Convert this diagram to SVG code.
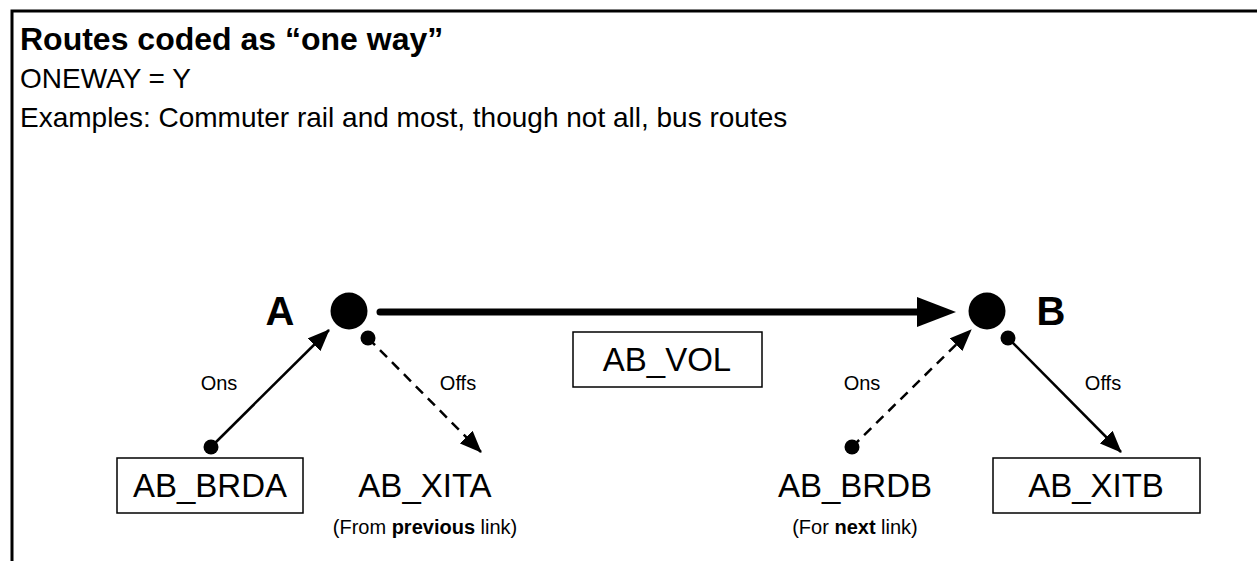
<svg xmlns="http://www.w3.org/2000/svg" width="1257" height="561" viewBox="0 0 1257 561">
<style>
text{font-family:"Liberation Sans",Arial,sans-serif;fill:#000}
.t{font-size:32px;font-weight:bold}
.h{font-size:28px}
.n{font-size:40px;font-weight:bold;text-anchor:middle}
.b{font-size:33px;text-anchor:middle}
.s{font-size:20px;text-anchor:middle}
.box{fill:#fff;stroke:#000;stroke-width:1.5}
.ln{stroke:#000;stroke-width:2.5;fill:none}
.dash{stroke-dasharray:10 7}
</style>
<defs>
<marker id="ah" viewBox="0 0 22 18" refX="21" refY="9" markerWidth="22" markerHeight="18" markerUnits="userSpaceOnUse" orient="auto"><path d="M0,0L22,9L0,18z" fill="#000"/></marker>
</defs>
<path d="M12,561V11H1257" fill="none" stroke="#000" stroke-width="3"/>
<g id="header">
<text class="t" x="20" y="50">Routes coded as “one way”</text>
<text class="h" x="20" y="88">ONEWAY = Y</text>
<text class="h" x="20" y="127">Examples: Commuter rail and most, though not all, bus routes</text>
</g>
<g id="connectors">
<line x1="380" y1="312" x2="922" y2="312" stroke="#000" stroke-width="7" stroke-linecap="round"/>
<path d="M917,297L956,312L917,327z" fill="#000"/>
<line class="ln" x1="211" y1="447" x2="329" y2="330" marker-end="url(#ah)"/>
<line class="ln dash" x1="368" y1="338" x2="481" y2="452" marker-end="url(#ah)"/>
<line class="ln dash" x1="852" y1="447" x2="971" y2="330" marker-end="url(#ah)"/>
<line class="ln" x1="1008" y1="338" x2="1121" y2="452" marker-end="url(#ah)"/>
<circle cx="211" cy="447" r="7.5"/>
<circle cx="368" cy="338" r="7.5"/>
<circle cx="852" cy="447" r="7.5"/>
<circle cx="1008" cy="338" r="7.5"/>
<text class="s" x="219" y="390">Ons</text>
<text class="s" x="458" y="390">Offs</text>
<text class="s" x="862" y="390">Ons</text>
<text class="s" x="1103" y="390">Offs</text>
</g>
<g id="nodeA">
<circle cx="349" cy="311" r="18.5"/>
<text class="n" x="280" y="325">A</text>
</g>
<g id="nodeB">
<circle cx="987" cy="311" r="18.5"/>
<text class="n" x="1051" y="325">B</text>
</g>
<g id="abvol">
<rect class="box" x="573" y="332" width="189" height="55"/>
<text class="b" x="667" y="371">AB_VOL</text>
</g>
<g id="abbrda">
<rect class="box" x="117" y="458" width="186" height="55"/>
<text class="b" x="210" y="497">AB_BRDA</text>
</g>
<g id="abxita">
<text class="b" x="425" y="497">AB_XITA</text>
<text class="s" x="425" y="534">(From <tspan font-weight="bold">previous</tspan> link)</text>
</g>
<g id="abbrdb">
<text class="b" x="855" y="497">AB_BRDB</text>
<text class="s" x="855" y="534">(For <tspan font-weight="bold">next</tspan> link)</text>
</g>
<g id="abxitb">
<rect class="box" x="993" y="458" width="207" height="55"/>
<text class="b" x="1096" y="497">AB_XITB</text>
</g>
</svg>
